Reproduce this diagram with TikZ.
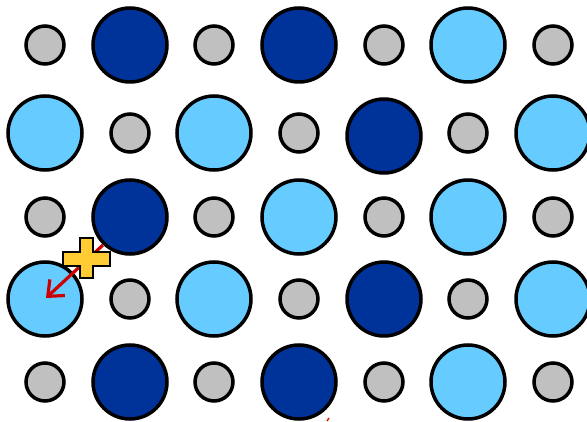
\documentclass[tikz,border=0pt]{standalone}
\usepackage{tikz}
\usepackage{xcolor}
\usetikzlibrary{arrows.meta}
\definecolor{atomdark}{HTML}{003399}
\definecolor{atomlight}{HTML}{66CCFF}
\definecolor{atomgray}{HTML}{C0C0C0}
\definecolor{vacancy}{HTML}{FFCC33}
\definecolor{jumpred}{HTML}{CC0000}
\tikzset{
  small/.style={draw=black, line width=3.5, fill=atomgray},
  large/.style={draw=black, line width=3.5},
}
\begin{document}
\begin{tikzpicture}[x=1pt, y=-1pt, >=Latex]
  \useasboundingbox (0,0) rectangle (587,422);
  % small atoms
  \foreach \y in {45,217,382}
    \foreach \x in {45,214,384,553}
      \draw[small] (\x,\y) circle (19);
  \foreach \y in {133,299}
    \foreach \x in {130,299,468}
      \draw[small] (\x,\y) circle (19);
  % large atoms
  \foreach \x/\y/\c in {130/45/atomdark, 299/45/atomdark, 468/45/atomlight,
      45/133/atomlight, 214/133/atomlight, 384/136/atomdark, 553/133/atomlight,
      130/217/atomdark, 299/217/atomlight, 468/217/atomlight,
      45/299/atomlight, 214/299/atomlight, 384/299/atomdark, 553/299/atomlight,
      130/382/atomdark, 299/382/atomdark, 468/382/atomlight}
    \draw[large, fill=\c] (\x,\y) circle (37);
  % jump
  \coordinate (from) at (103,245);
  \coordinate (to) at (46,298);
  \draw[jumpred, line width=3.2, -{Straight Barb[length=13, width=22, line width=3.2]}] (from) -- (to);
  \draw[jumpred!80!orange, line width=1.5] (327,421) -- (329,418);
  % vacancy
  \draw[fill=vacancy, line width=1.5] (80,238) -- (93,238) -- (93,252) -- (110,252)
    -- (110,266) -- (93,266) -- (93,278) -- (80,278) -- (80,266) -- (63,266)
    -- (63,252) -- (80,252) -- cycle;
\end{tikzpicture}
\end{document}
